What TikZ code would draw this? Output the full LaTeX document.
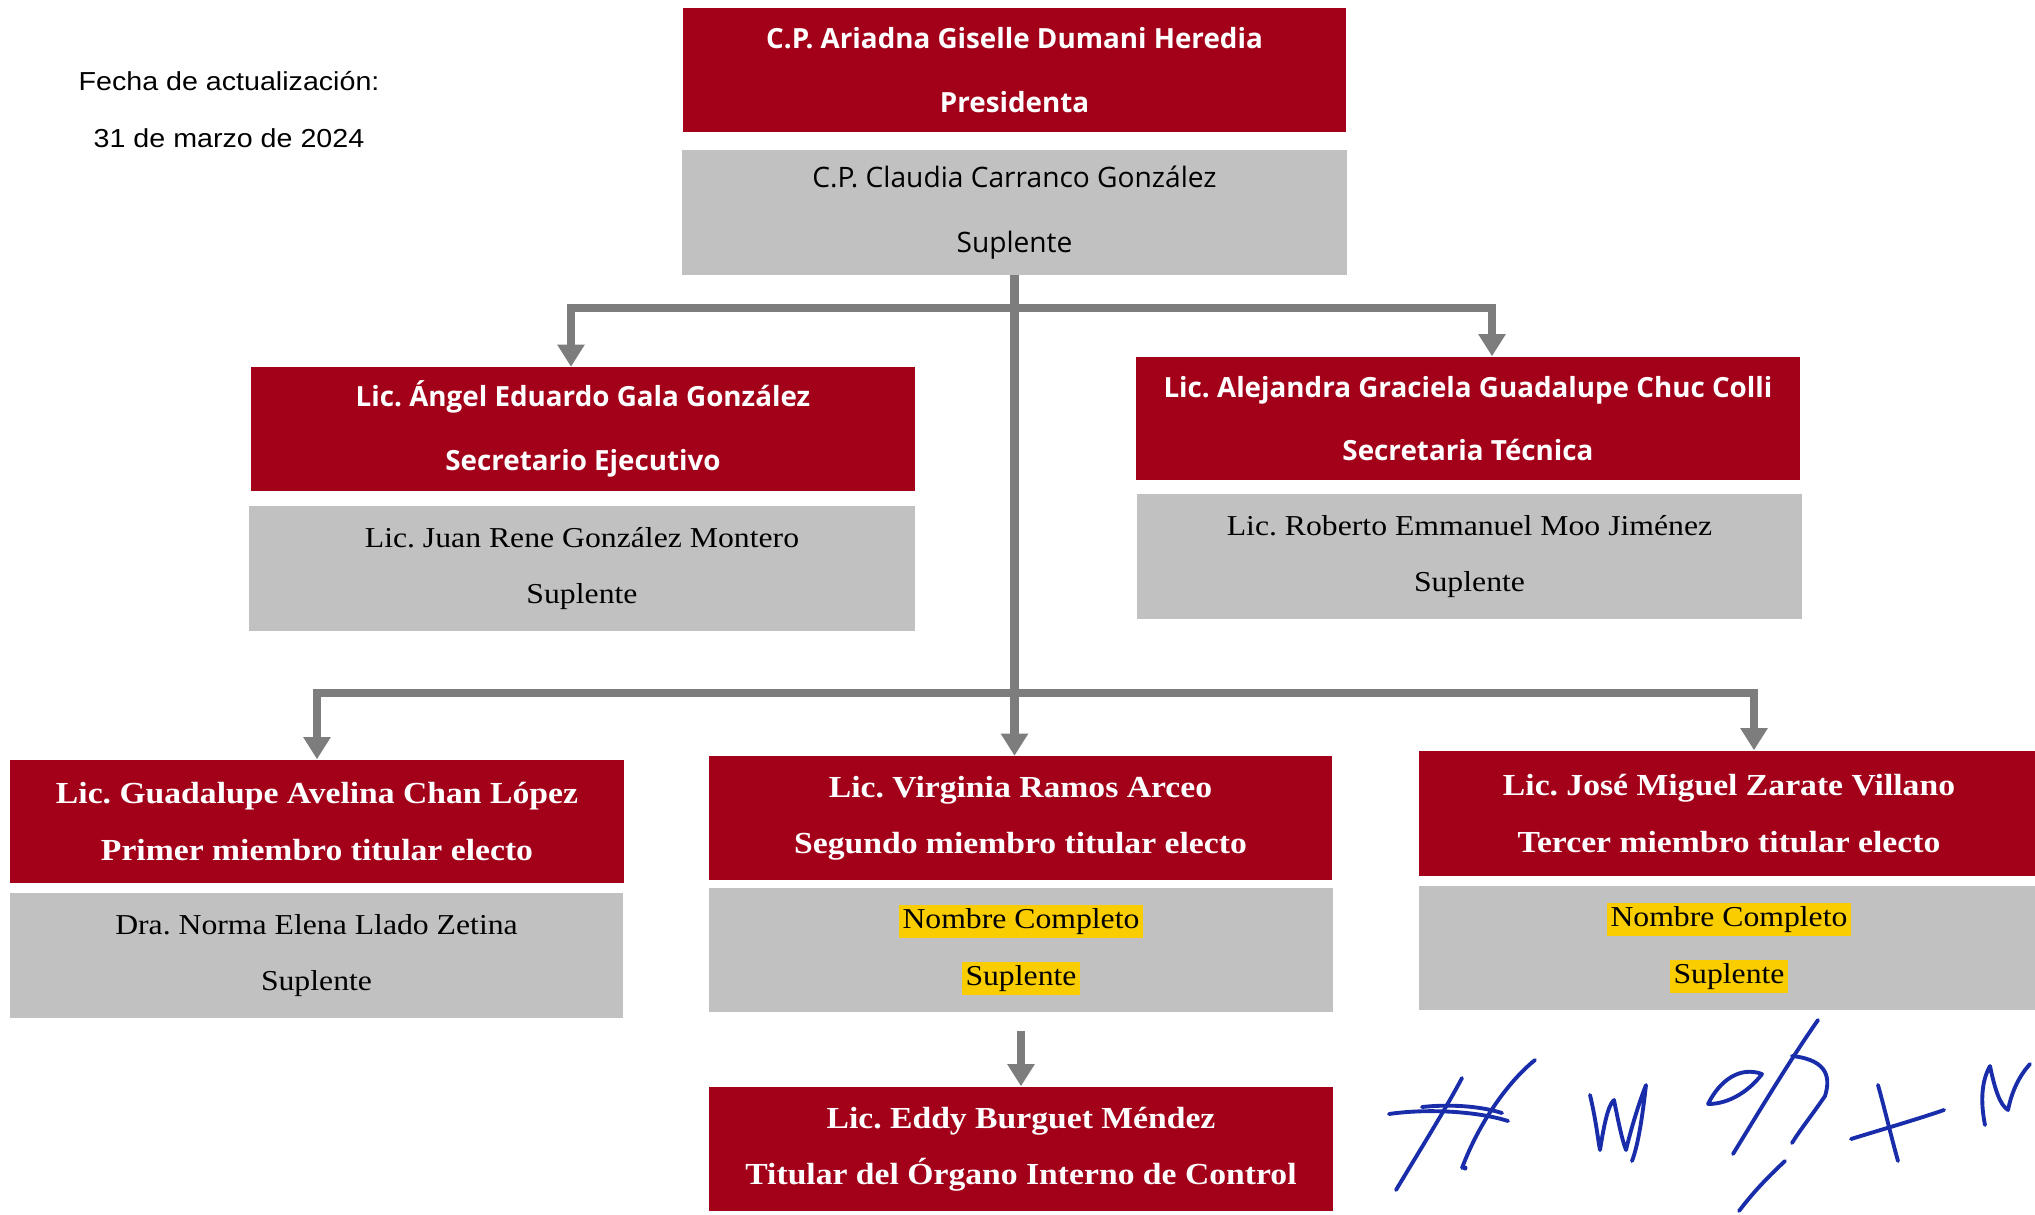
\documentclass[tikz,border=0pt]{standalone}
\usepackage{fontspec}
\setmainfont{Liberation Serif}[FakeStretch=1.1]
\newfontfamily\sanscargo{Open Sans}
\newfontfamily\fechafont{Liberation Sans}[FakeStretch=1.1]
\usepackage{xcolor}
\usepackage{tikz}
\usetikzlibrary{arrows.meta}
\definecolor{rojocargo}{RGB}{163,0,26}
\definecolor{grissupl}{RGB}{193,193,193}
\definecolor{grisflecha}{RGB}{125,125,125}
\definecolor{resaltado}{RGB}{250,205,0}
\definecolor{tinta}{RGB}{25,45,170}

\newcommand{\resalta}[1]{{\setlength{\fboxsep}{1pt}\colorbox{resaltado}{#1}}}

\tikzset{
  cargo/.style={fill=rojocargo, text=white, align=center, inner sep=0pt,
    minimum width=6.63cm, minimum height=1.23cm},
  suplente/.style={fill=grissupl, text=black, align=center, inner sep=0pt,
    minimum width=6.65cm, minimum height=1.24cm},
  sansbold/.style={font=\sanscargo\bfseries\fontsize{7.9}{18}\selectfont},
  sansreg/.style={font=\sanscargo\fontsize{8}{18.5}\selectfont},
  serifreg/.style={font=\fontsize{8.2}{16}\selectfont},
  serifbold/.style={font=\bfseries\fontsize{8.7}{16}\selectfont},
  fecha/.style={font=\fechafont\fontsize{7.4}{9}\selectfont, inner sep=0pt},
  conector/.style={draw=grisflecha, line width=2.4pt,
    -{Triangle[width=7.4pt,length=6.3pt]}},
  ambos/.style={{Triangle[width=7.4pt,length=6.3pt]}-{Triangle[width=7.4pt,length=6.3pt]}},
  firma/.style={draw=tinta, line width=1.1pt, line cap=round, line join=round}
}

\begin{document}
\frenchspacing
\begin{tikzpicture}[x=0.01cm, y=-0.01cm]
	\useasboundingbox (0,0) rectangle (2035,1214);
	
	% fecha
	\node[fecha, anchor=base west] (fecha1) at (78,90) {Fecha de actualización:};
	\node[fecha, anchor=base west] (fecha2) at (93,147) {31 de marzo de 2024};
	
	% presidencia
	\node[cargo, sansbold] (pres) at (1014.5,70) {C.P. Ariadna Giselle Dumani Heredia\\Presidenta};
	\node[suplente, sansreg] (presSup) at (1014.5,212.5) {C.P. Claudia Carranco González\\Suplente};
	
	% secretarias
	\node[cargo, sansbold] (secEj) at (583,429) {Lic. Ángel Eduardo Gala González\\Secretario Ejecutivo};
	\node[suplente, serifreg] (secEjSup) at (582,568.5) {Lic. Juan Rene González Montero\\Suplente};
	\node[cargo, sansbold] (secTec) at (1468,418.5) {Lic. Alejandra Graciela Guadalupe Chuc Colli\\Secretaria Técnica};
	\node[suplente, serifreg] (secTecSup) at (1469.5,556.5) {Lic. Roberto Emmanuel Moo Jiménez\\Suplente};
	
	% miembros electos
	\node[cargo, serifbold, minimum width=6.14cm] (prim) at (317,821.5) {Lic. Guadalupe Avelina Chan López\\Primer miembro titular electo};
	\node[suplente, serifreg, minimum width=6.13cm, minimum height=1.25cm] (primSup) at (316.5,955.5) {Dra. Norma Elena Llado Zetina\\Suplente};
	\node[cargo, serifbold, minimum width=6.23cm] (seg) at (1020.5,818) {Lic. Virginia Ramos Arceo\\Segundo miembro titular electo};
	\node[suplente, serifreg, minimum width=6.24cm] (segSup) at (1021,950) {\resalta{Nombre Completo}\\\resalta{Suplente}};
	\node[cargo, serifbold, minimum width=6.2cm, minimum height=1.25cm] (ter) at (1729,813.5) {Lic. José Miguel Zarate Villano\\Tercer miembro titular electo};
	\node[suplente, serifreg, minimum width=6.2cm] (terSup) at (1729,948) {\resalta{Nombre Completo}\\\resalta{Suplente}};
	
	% organo interno de control
	\node[cargo, serifbold, minimum width=6.23cm, minimum height=1.24cm] (oic) at (1021,1149) {Lic. Eddy Burguet Méndez\\Titular del Órgano Interno de Control};
	
	% conectores
	\coordinate (barraA) at (1016,308);
	\coordinate (barraB) at (1016,693);
	\draw[conector] (presSup.south) -- (presSup.south |- seg.north);
	\draw[conector, ambos] ([xshift=-0.12cm]secEj.north) |- (barraA) -| ([xshift=0.24cm]secTec.north);
	\draw[conector, ambos] (prim.north) |- (barraB) -| ([xshift=0.25cm]ter.north);
	\draw[conector, shorten <=0.18cm] (segSup.south) -- (oic.north);
	
	% firmas
	\draw[firma] (1396,1190) .. controls (1420,1150) and (1445,1110) .. (1462,1078);
	\draw[firma] (1462,1168) .. controls (1480,1120) and (1510,1080) .. (1535,1060);
	\draw[firma] (1389,1114) .. controls (1430,1108) and (1480,1112) .. (1508,1121);
	\draw[firma] (1422,1107) .. controls (1450,1104) and (1480,1106) .. (1502,1113);
	\fill[tinta] (1465,1168) circle (2.5);
	\draw[firma] (1590,1095) .. controls (1596,1120) and (1598,1140) .. (1600,1150) .. controls (1604,1125) and (1608,1105) .. (1614,1100) .. controls (1618,1120) and (1622,1140) .. (1626,1150) .. controls (1632,1125) and (1640,1100) .. (1646,1085) .. controls (1642,1120) and (1638,1145) .. (1632,1161);
	\draw[firma] (1733,1154) .. controls (1760,1110) and (1790,1060) .. (1818,1020);
	\draw[firma] (1708,1104) .. controls (1720,1080) and (1740,1066) .. (1762,1074) .. controls (1750,1090) and (1730,1104) .. (1708,1104);
	\draw[firma] (1792,1056) .. controls (1830,1060) and (1830,1080) .. (1825,1096) .. controls (1812,1115) and (1800,1130) .. (1792,1143);
	\draw[firma] (1739,1211) .. controls (1755,1190) and (1770,1175) .. (1785,1161);
	\draw[firma] (1878,1085) .. controls (1885,1110) and (1892,1140) .. (1898,1161);
	\draw[firma] (1851,1139) .. controls (1880,1130) and (1915,1120) .. (1944,1110);
	\draw[firma] (1985,1125) .. controls (1980,1100) and (1982,1080) .. (1990,1066) .. controls (1995,1090) and (2000,1105) .. (2008,1110) .. controls (2012,1090) and (2020,1075) .. (2030,1064);
\end{tikzpicture}
\end{document}
